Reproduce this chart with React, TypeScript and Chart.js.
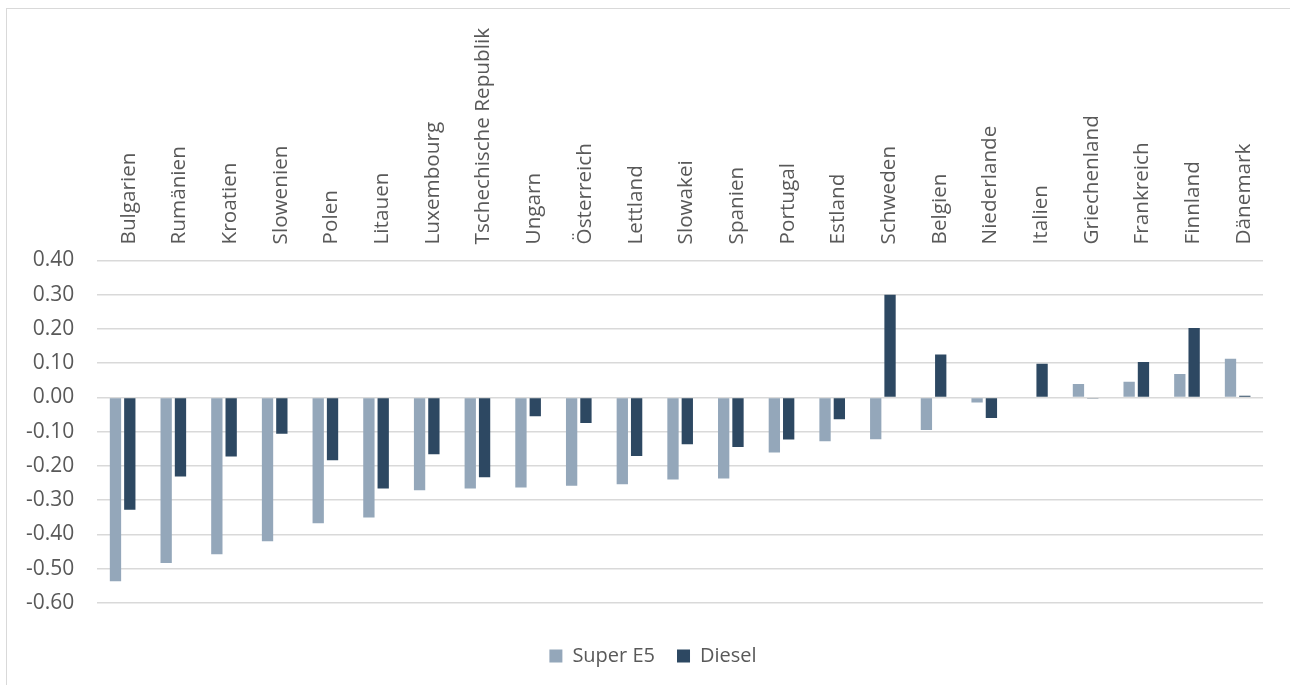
import React, { useEffect, useRef } from "react";
import { Chart, registerables } from "chart.js";

Chart.register(...registerables);

const categories = [
  "Bulgarien", "Rumänien", "Kroatien", "Slowenien", "Polen", "Litauen", "Luxembourg",
  "Tschechische Republik", "Ungarn", "Österreich", "Lettland", "Slowakei", "Spanien",
  "Portugal", "Estland", "Schweden", "Belgien", "Niederlande", "Italien", "Griechenland",
  "Frankreich", "Finnland", "Dänemark",
];

const superE5 = [
  -0.537, -0.484, -0.458, -0.42, -0.368, -0.351, -0.271,
  -0.266, -0.263, -0.258, -0.254, -0.24, -0.237,
  -0.161, -0.128, -0.122, -0.095, -0.015, 0.0, 0.039,
  0.046, 0.068, 0.113,
];

const diesel = [
  -0.328, -0.231, -0.173, -0.106, -0.184, -0.266, -0.166,
  -0.233, -0.055, -0.075, -0.171, -0.137, -0.145,
  -0.123, -0.064, 0.3, 0.125, -0.06, 0.098, -0.003,
  0.103, 0.203, 0.005,
];

const seriesNames = ["Super E5", "Diesel"];
const yMin = -0.6;
const yMax = 0.4;
const yStep = 0.1;

const xFontSize = 20.7;

const legendShift = {
  id: "legendShift",
  afterLayout(chart: any) {
    const lg = chart.legend;
    if (lg) {
      lg.left += 20;
      lg.right += 20;
    }
  },
};

export default function App() {
  const ref = useRef<HTMLCanvasElement>(null);
  useEffect(() => {
    if (!ref.current) return;
    const chart = new Chart(ref.current, {
      type: "bar",
      data: {
        labels: categories,
        datasets: [
          {
            label: seriesNames[0],
            data: superE5,
            backgroundColor: "#94a7ba",
            borderWidth: 0,
            categoryPercentage: 0.565,
            barPercentage: 0.79,
          },
          {
            label: seriesNames[1],
            data: diesel,
            backgroundColor: "#2d4862",
            borderWidth: 0,
            categoryPercentage: 0.565,
            barPercentage: 0.79,
          },
        ],
      },
      options: {
        animation: false,
        responsive: false,
        maintainAspectRatio: false,
        layout: { padding: { left: 3, right: 27, top: 12, bottom: 9 } },
        plugins: {
          legend: {
            position: "bottom",
            title: {
              display: true,
              text: "",
              font: { size: 1 },
              padding: { top: 20, bottom: 0 },
            },
            labels: {
              boxWidth: 13,
              boxHeight: 13,
              padding: 22,
              color: "#595959",
              font: { family: "'Open Sans'", size: 20 },
            },
          },
          tooltip: { enabled: false },
        },
        scales: {
          x: {
            position: "top",
            grid: { display: false, drawTicks: false },
            border: { display: false },
            ticks: {
              color: "#595959",
              font: { family: "'Open Sans'", size: xFontSize },
              minRotation: 90,
              maxRotation: 90,
              autoSkip: false,
              padding: 16,
              labelOffset: 31,
            },
          },
          y: {
            min: yMin,
            max: yMax,
            grid: { color: "#d9d9d9", lineWidth: 1.5, drawTicks: false },
            border: { display: false },
            ticks: {
              stepSize: yStep,
              color: "#595959",
              font: { family: "'Open Sans'", size: 21 },
              padding: 23,
              callback: (v: any) => Number(v).toFixed(2),
            },
          },
        },
      },
      plugins: [legendShift],
    });
    return () => chart.destroy();
  }, []);
  return (
    <div>
      <div
        style={{
          position: "fixed",
          left: 6,
          top: 8,
          width: 1300,
          height: 700,
          borderLeft: "1.5px solid #d9d9d9",
          borderTop: "1.5px solid #d9d9d9",
          boxSizing: "border-box",
        }}
      />
      <canvas
        ref={ref}
        width={1290}
        height={685}
        style={{ position: "fixed", left: 0, top: 0, width: 1290, height: 685 }}
      />
    </div>
  );
}
